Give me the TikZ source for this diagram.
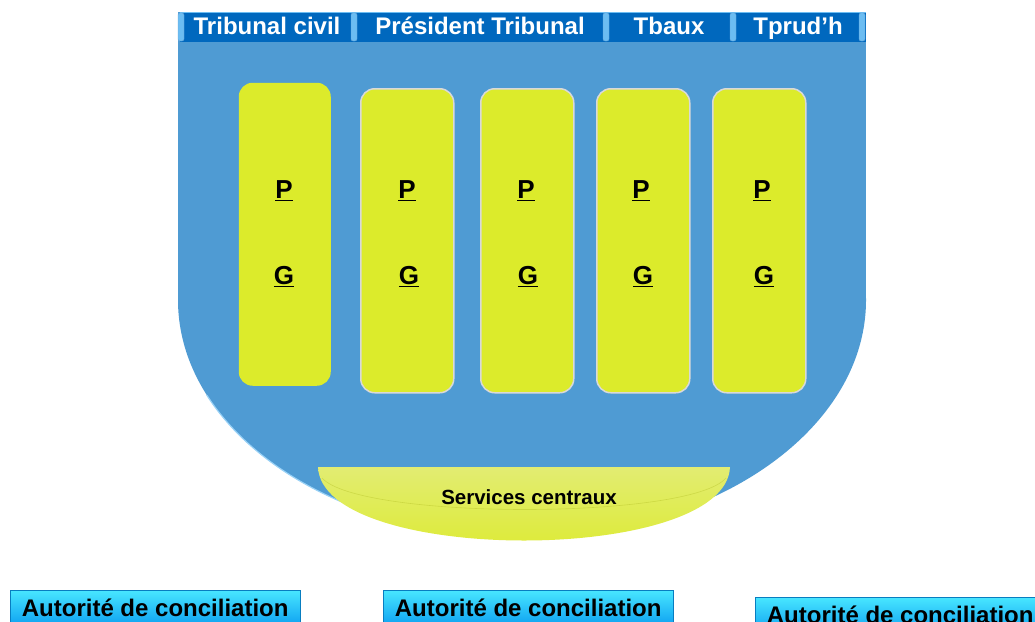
\documentclass[tikz,border=0pt]{standalone}
\usepackage{fontspec}
\setmainfont{Liberation Sans}
\usetikzlibrary{calc,positioning,shapes}
\definecolor{bodyblue}{HTML}{4F9BD3}
\definecolor{barblue}{HTML}{0068BE}
\definecolor{sepblue}{HTML}{6CBDF2}
\definecolor{juge}{HTML}{DCEB2B}
\definecolor{jugelight}{HTML}{E2EC72}
\definecolor{conctop}{HTML}{48E6FF}
\definecolor{concbot}{HTML}{0A9CF0}

\begin{document}
\begin{tikzpicture}[x=1pt,y=-1pt,font=\bfseries]
    \tikzstyle{col}=[rounded corners=14pt, fill=juge, draw=gray!30, line width=1.5pt, minimum width=93pt, minimum height=304pt, anchor=north west]
    \tikzstyle{letter}=[font=\fontsize{26}{30}\selectfont\bfseries]
    \tikzstyle{hdr}=[text=white, text height=17pt, text depth=5pt, inner sep=0pt, font=\fontsize{24}{28}\selectfont\bfseries]
    \tikzstyle{sep}=[rounded corners=2pt, fill=sepblue, draw=barblue!60, minimum width=6pt, minimum height=28pt, inner sep=0pt]
    \tikzstyle{concil}=[top color=conctop, bottom color=concbot, draw=concbot!80!black, anchor=north west, minimum height=38pt, inner sep=0pt, text depth=4pt, font=\fontsize{24}{28}\selectfont\bfseries]

    \useasboundingbox (0,0) rectangle (1035,621);

    % body of the shield
    \fill[bodyblue] (178,12) rectangle (866,300);
    \fill[bodyblue] (522,300) ellipse [x radius=344, y radius=237];
    \begin{scope}
      \clip (170,395) rectangle (345,545);
      \draw[sepblue!70!white, line width=1.2pt] (522,300) ellipse [x radius=344, y radius=237];
    \end{scope}

    % header
    \fill[barblue] (180,12) rectangle (866,42);
    \draw[sepblue, line width=0.8pt] (180,12.5) -- (866,12.5);
    \node[sep]    (s1) at (181,27) {};
    \node[sep]    (s2) at (354,27) {};
    \node[sep]    (s3) at (606,27) {};
    \node[sep]    (s4) at (733,27) {};
    \node[sep]    (s5) at (862,27) {};
    \node[hdr]    (tciv) at (267,28) {Tribunal civil};
    \node[hdr]    (pres) at (480,28) {Président Tribunal};
    \node[hdr]    (tbx) at (669,28) {Tbaux};
    \node[hdr]    (tph) at (798,28) {Tprud’h};

    % columns
    \node[col, draw=none, minimum width=92pt, minimum height=303pt] (c1) at (238,82) {};
    \node[col]    (c2) at (360,88) {};
    \node[col]    (c3) at (480,88) {};
    \node[col]    (c4) at (596,88) {};
    \node[col]    (c5) at (712,88) {};

    \node[letter] (p1) at (284,191) {\underline{P}};
    \node[letter] (g1) at (284,277) {\underline{G}};
    \node[letter] (p2) at (407,191) {\underline{P}};
    \node[letter] (g2) at (409,277) {\underline{G}};
    \node[letter] (p3) at (526,191) {\underline{P}};
    \node[letter] (g3) at (528,277) {\underline{G}};
    \node[letter] (p4) at (641,191) {\underline{P}};
    \node[letter] (g4) at (643,277) {\underline{G}};
    \node[letter] (p5) at (762,191) {\underline{P}};
    \node[letter] (g5) at (764,277) {\underline{G}};

    % central services
    \shade[top color=jugelight, bottom color=juge] (318,467) -- (730,467)
      .. controls (726,565) and (322,565) .. (318,467);
    \draw[juge!80!black, line width=0.6pt, opacity=0.4] (322,478)
      .. controls (360,520) and (690,520) .. (726,478);
    \node[font=\fontsize{20.5}{24}\selectfont\bfseries] (sc) at (529,497) {Services centraux};

    % conciliation
    \node[concil, minimum width=290pt] (a1) at (10,590) {Autorité de conciliation};
    \node[concil, minimum width=290pt] (a2) at (383,590) {Autorité de conciliation};
    \node[concil, minimum width=290pt] (a3) at (755,597) {Autorité de conciliation};
\end{tikzpicture}
\end{document}
